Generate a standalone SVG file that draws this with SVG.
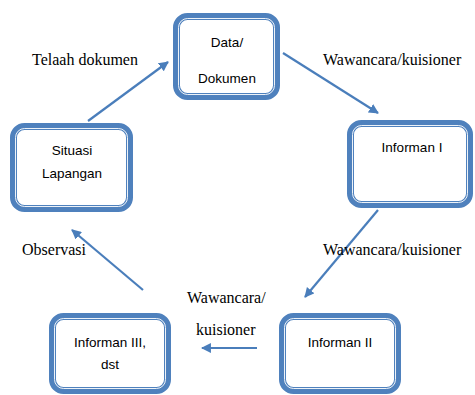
<svg xmlns="http://www.w3.org/2000/svg" width="475" height="395" viewBox="0 0 475 395">
<style>
.box{fill:#fff;stroke:#4F81BD;stroke-width:7}
.inner{fill:none;stroke:#fff;stroke-width:0.9}
.nt{font-family:"Liberation Sans",Arial,sans-serif;font-size:13.5px;fill:#000;text-anchor:middle}
.lt{font-family:"Liberation Serif","Times New Roman",serif;font-size:16px;fill:#000}
.conn{stroke:#4A7EBB;stroke-width:2.2;fill:none;marker-end:url(#ah)}
</style>
<defs>
<marker id="ah" viewBox="0 0 10 10" refX="9" refY="5" markerWidth="4.5" markerHeight="4.5" orient="auto" markerUnits="strokeWidth">
<path d="M0,0 L10,5 L0,10 z" fill="#4A7EBB"/>
</marker>
</defs>
<rect width="475" height="395" fill="#fff"/>
<g id="connectors">
<line class="conn" x1="88" y1="121" x2="168" y2="62"/>
<line class="conn" x1="283" y1="53" x2="378" y2="113"/>
<line class="conn" x1="378" y1="210" x2="305" y2="297"/>
<line class="conn" x1="257" y1="348" x2="202" y2="348"/>
<line class="conn" x1="143" y1="290" x2="72" y2="230"/>
</g>
<g id="labels">
<text class="lt" x="32" y="65">Telaah dokumen</text>
<text class="lt" x="323" y="65">Wawancara/kuisioner</text>
<text class="lt" x="323" y="255">Wawancara/kuisioner</text>
<text class="lt" x="22" y="255">Observasi</text>
<text class="lt" x="187" y="303">Wawancara/</text>
<text class="lt" x="196" y="335">kuisioner</text>
</g>
<g id="node-data">
<rect class="box" x="176.5" y="16.5" width="100" height="80" rx="11"/>
<rect class="inner" x="178.5" y="18.5" width="96" height="76" rx="9"/>
<text class="nt" x="227" y="47">Data/</text>
<text class="nt" x="227" y="83">Dokumen</text>
</g>
<g id="node-situasi">
<rect class="box" x="13.5" y="126.5" width="116" height="82" rx="11"/>
<rect class="inner" x="15.5" y="128.5" width="112" height="78" rx="9"/>
<text class="nt" x="72" y="155">Situasi</text>
<text class="nt" x="72" y="178">Lapangan</text>
</g>
<g id="node-informan1">
<rect class="box" x="350.5" y="123.5" width="119" height="81" rx="11"/>
<rect class="inner" x="352.5" y="125.5" width="115" height="77" rx="9"/>
<text class="nt" x="412" y="152">Informan I</text>
</g>
<g id="node-informan2">
<rect class="box" x="282.5" y="316.5" width="115" height="74" rx="11"/>
<rect class="inner" x="284.5" y="318.5" width="111" height="70" rx="9"/>
<text class="nt" x="340" y="347">Informan II</text>
</g>
<g id="node-informan3">
<rect class="box" x="52.5" y="316.5" width="115" height="74" rx="11"/>
<rect class="inner" x="54.5" y="318.5" width="111" height="70" rx="9"/>
<text class="nt" x="110" y="347">Informan III,</text>
<text class="nt" x="110" y="369">dst</text>
</g>
</svg>
